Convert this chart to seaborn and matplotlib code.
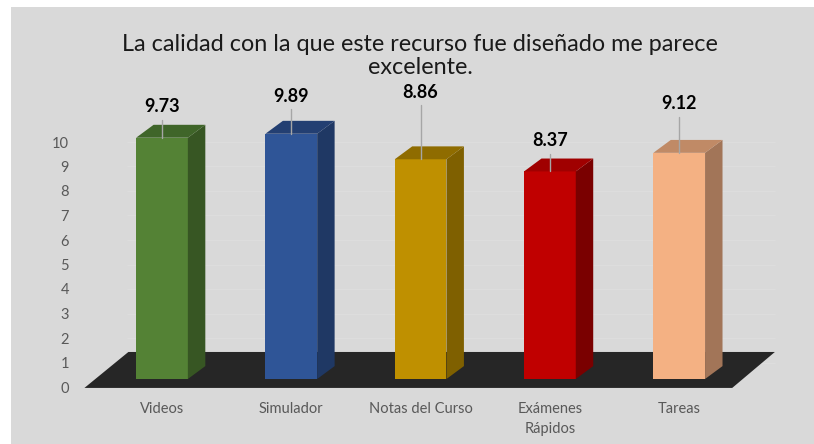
import numpy as np
import pandas as pd
import matplotlib
matplotlib.use("Agg")
import matplotlib.pyplot as plt
import seaborn as sns
from matplotlib.patches import Polygon, Rectangle

# ---------------- data ----------------
categories = ["Videos", "Simulador", "Notas del Curso", "Exámenes\nRápidos", "Tareas"]
values = [9.73, 9.89, 8.86, 8.37, 9.12]
y_ticks = list(range(0, 11))
title = "La calidad con la que este recurso fue diseñado me parece\nexcelente."

# ---------------- style / layout ----------------
front_colors = ["#548235", "#2f5597", "#bf9000", "#c00000", "#f4b183"]
top_colors = ["#3f6529", "#233f72", "#8f6c00", "#a00000", "#c08a66"]
side_colors = ["#375623", "#1f3864", "#7f6000", "#7a0000", "#a27558"]
label_lift = [1.25, 1.52, 2.7, 1.23, 1.97]   # label offsets above bar tops (data units)

W, H = 814, 444
sns.set_theme(style="white")
plt.rcParams['font.family'] = ['Lato', 'DejaVu Sans']

fig = plt.figure(figsize=(W / 100, H / 100), dpi=100, facecolor="white")
fig.patches.append(Rectangle((11 / W, 0), 1, (H - 7) / H, transform=fig.transFigure,
                             facecolor="#d9d9d9", edgecolor="none", zorder=-10))

# pixel geometry of the plotting region
x0_pix, step_pix = 162, 129.3
base_pix, unit_pix = 379, 24.8
left_pix, right_pix = 71.5, 808
top_pix, bottom_pix = 19.4, 397
xlim = ((left_pix - x0_pix) / step_pix, (right_pix - x0_pix) / step_pix)
ylim = ((base_pix - bottom_pix) / unit_pix, (base_pix - top_pix) / unit_pix)
pos = [left_pix / W, 1 - bottom_pix / H, (right_pix - left_pix) / W, (bottom_pix - top_pix) / H]

# value axis (tick labels on the back wall)
ax2 = fig.add_axes(pos)
ax2.set_facecolor("none")
tick0_pix, tick_unit = 387, 24.5
ax2.set_ylim((tick0_pix - bottom_pix) / tick_unit, (tick0_pix - top_pix) / tick_unit)
ax2.set_xlim(*xlim)
ax2.set_yticks(y_ticks)
ax2.set_yticklabels([str(t) for t in y_ticks])
ax2.set_xticks([])
ax2.tick_params(axis="y", length=0, pad=1.8, labelsize=10.5, labelcolor="#595959")
for s in ax2.spines.values():
    s.set_visible(False)

# floor + bars
ax = fig.add_axes(pos)
ax.set_facecolor("none")
n = len(categories)
floor_front = -0.36
floor_depth = (0.33, 1.45)
floor = Polygon([(-0.6, floor_front), (n - 1 + 0.41, floor_front),
                 (n - 1 + 0.41 + floor_depth[0], floor_front + floor_depth[1]),
                 (-0.6 + floor_depth[0] + 0.01, floor_front + floor_depth[1])],
                closed=True, facecolor="#262626", edgecolor="none", zorder=1)
ax.add_patch(floor)

# faint back-wall gridlines
ax2.hlines(y_ticks[1:], -0.6 + floor_depth[0], n - 1 + 0.41 + floor_depth[0],
           color="#dddddd", lw=0.8, zorder=0)

df = pd.DataFrame({"cat": categories, "val": values})
sns.barplot(data=df, x="cat", y="val", hue="cat", palette=front_colors, width=0.4,
            saturation=1, ax=ax, legend=False, zorder=3, edgecolor="none")

dx, dy = 0.135, 0.52
bars = [p for p in ax.patches if p is not floor]
for i, p in enumerate(bars):
    x, w, h = p.get_x(), p.get_width(), p.get_height()
    side = Polygon([(x + w, 0), (x + w + dx, dy), (x + w + dx, h + dy), (x + w, h)],
                   closed=True, facecolor=side_colors[i], edgecolor="none", zorder=3)
    top = Polygon([(x, h), (x + w, h), (x + w + dx, h + dy), (x + dx, h + dy)],
                  closed=True, facecolor=top_colors[i], edgecolor="none", zorder=3)
    ax.add_patch(side)
    ax.add_patch(top)
    cx = x + w / 2
    ax.plot([cx, cx], [h, h + label_lift[i] - 0.52], color="#a6a6a6", lw=1, zorder=4)
    ax.text(cx, h + label_lift[i], f"{values[i]:.2f}", ha="center", va="center",
            fontsize=13, fontweight="bold", color="black", zorder=5)

ax.set_xlim(*xlim)
ax.set_ylim(*ylim)
ax.set_yticks([])
ax.set_xlabel("")
ax.set_ylabel("")
ax.set_xticks(range(n))
ax.set_xticklabels(categories)
ax.tick_params(axis="x", length=0, pad=3.5, labelsize=10.5, labelcolor="#595959")
for lbl in ax.get_xticklabels():
    lbl.set_linespacing(1.6)
for s in ax.spines.values():
    s.set_visible(False)

fig.text(420 / W, 1 - 56 / H, title, ha="center", va="center", fontsize=16.8,
         color="#1a1a1a", linespacing=1.15)

fig.savefig("out.png", dpi=100, facecolor="white")
